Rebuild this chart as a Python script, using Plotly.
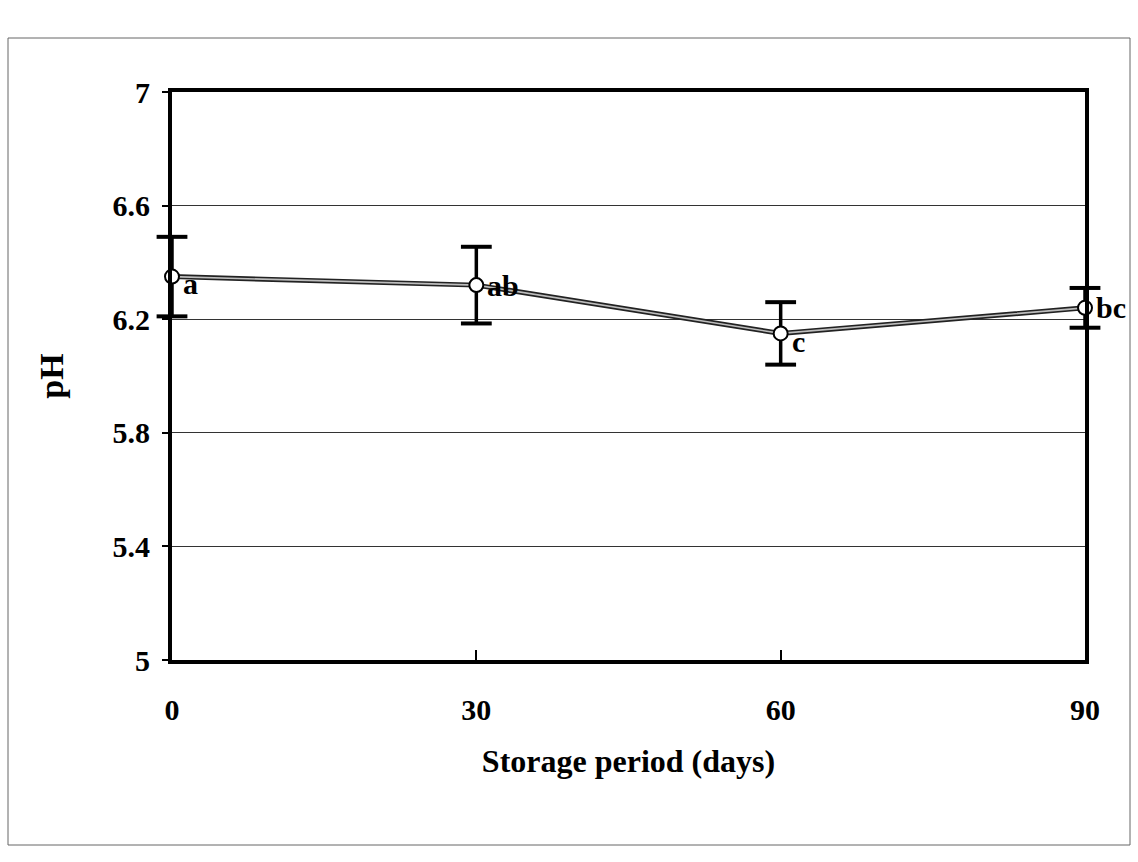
import plotly.graph_objects as go

days = [0, 30, 60, 90]
ph_mean = [6.35, 6.32, 6.15, 6.24]
ph_err = [0.14, 0.135, 0.11, 0.07]
letters = ["a", "ab", "c", "bc"]
y_ticks = [5, 5.4, 5.8, 6.2, 6.6, 7]
y_tick_text = ["5", "5.4", "5.8", "6.2", "6.6", "7"]
x_ticks = [0, 30, 60, 90]

FONT = "Liberation Serif"

fig = go.Figure()

# dark outer stroke of the double line
fig.add_trace(go.Scatter(
    x=days, y=ph_mean, mode="lines",
    line=dict(color="#222222", width=5),
    hoverinfo="skip", showlegend=False,
))

# error bar stems
fig.add_trace(go.Scatter(
    x=days, y=ph_mean, mode="none",
    error_y=dict(type="data", array=ph_err, visible=True,
                 color="black", thickness=3.5, width=0),
    hoverinfo="skip", showlegend=False,
))

# error bar caps (markers, so they are not clipped at the frame)
cap_x = days + days
cap_y = [m + e for m, e in zip(ph_mean, ph_err)] + [m - e for m, e in zip(ph_mean, ph_err)]
fig.add_trace(go.Scatter(
    x=cap_x, y=cap_y, mode="markers",
    marker=dict(symbol="line-ew", size=22, line=dict(color="black", width=4)),
    cliponaxis=False, hoverinfo="skip", showlegend=False,
))

# light inner stroke and markers
fig.add_trace(go.Scatter(
    x=days, y=ph_mean, mode="lines+markers",
    line=dict(color="#bdbdbd", width=1.6),
    marker=dict(symbol="circle", size=14, color="white",
                line=dict(color="black", width=2)),
    cliponaxis=False, showlegend=False,
))

# significance letters
y_shifts = [-7, 0, -8, 0]
for d, m, t, ys in zip(days, ph_mean, letters, y_shifts):
    fig.add_annotation(
        x=d, y=m, text=t, showarrow=False,
        xanchor="left", yanchor="middle", xshift=9, yshift=ys,
        font=dict(family=FONT, size=30, color="black", weight="bold"),
    )

# page border of the scanned figure
L, R, T, B = 172, 1085, 92, 660
W, H = R - L, B - T
def px(x):
    return (x - L) / W
def py(y):
    return (B - y) / H

fig.add_shape(type="rect", xref="paper", yref="paper",
              x0=px(8), x1=px(1130), y0=py(845), y1=py(38),
              line=dict(color="#666666", width=1), layer="below")

fig.update_layout(
    width=1138, height=862,
    margin=dict(l=L, r=1138 - R, t=T, b=862 - B),
    paper_bgcolor="white", plot_bgcolor="white",
    font=dict(family=FONT, color="black", size=28),
    xaxis=dict(
        range=[0, 90], tickvals=x_ticks, ticktext=[str(v) for v in x_ticks],
        showgrid=False, zeroline=False,
        showline=True, linecolor="black", linewidth=4, mirror=True,
        ticks="inside", ticklen=10, tickwidth=1.5, tickcolor="black",
        ticklabelstandoff=20,
        tickfont=dict(family=FONT, size=30, weight="bold"),
        title=dict(text="Storage period (days)", standoff=26,
                   font=dict(family=FONT, size=32, weight="bold")),
    ),
    yaxis=dict(
        range=[5, 7], tickvals=y_ticks, ticktext=y_tick_text,
        showgrid=True, gridcolor="#333333", gridwidth=1,
        zeroline=False,
        showline=True, linecolor="black", linewidth=4, mirror=True,
        ticks="outside", ticklen=6, tickwidth=1.5, tickcolor="black",
        ticklabelstandoff=6,
        tickfont=dict(family=FONT, size=30, weight="bold"),
        title=dict(text="pH", standoff=40,
                   font=dict(family=FONT, size=34, weight="bold")),
    ),
)

fig.write_html("out.html")
